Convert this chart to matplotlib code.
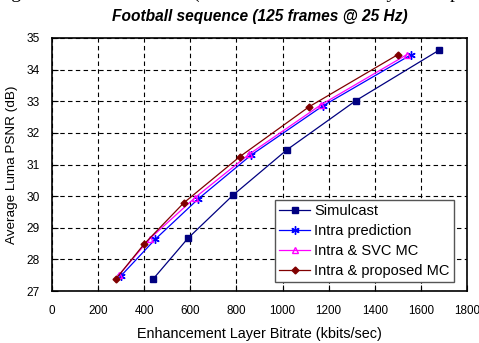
import matplotlib
matplotlib.use("Agg")
import matplotlib.pyplot as plt

# Data (kbits/sec, dB)
simulcast_x = [440, 590, 785, 1018, 1318, 1680]
simulcast_y = [27.39, 28.67, 30.03, 31.46, 33.02, 34.62]

intra_x = [298, 447, 634, 864, 1174, 1555]
intra_y = [27.47, 28.63, 29.91, 31.30, 32.85, 34.46]

svc_x = [292, 425, 620, 856, 1165, 1538]
svc_y = [27.52, 28.66, 29.95, 31.33, 32.88, 34.47]

prop_x = [276, 399, 572, 815, 1116, 1499]
prop_y = [27.37, 28.48, 29.79, 31.25, 32.83, 34.47]

xticks = [0, 200, 400, 600, 800, 1000, 1200, 1400, 1600, 1800]
yticks = [27, 28, 29, 30, 31, 32, 33, 34, 35]

plt.rcParams['font.family'] = ['Liberation Sans', 'DejaVu Sans']

W, H = 479, 343
fig = plt.figure(figsize=(W / 100, H / 100), dpi=100)
ax = fig.add_axes([52 / W, (H - 291) / H, 415 / W, 253 / H])

ax.plot(simulcast_x, simulcast_y, color='#000080', lw=0.9, marker='s', ms=4.5,
        mfc='#000080', mec='#000080', label='Simulcast')
ax.plot(intra_x, intra_y, color='#0000FF', lw=0.9, marker=(6, 2, 0), ms=6,
        mec='#0000FF', mew=1.0, label='Intra prediction')
ax.plot(svc_x, svc_y, color='#FF00FF', lw=0.9, marker='^', ms=5,
        mfc='none', mec='#FF00FF', mew=1.0, label='Intra & SVC MC')
ax.plot(prop_x, prop_y, color='#800000', lw=0.9, marker='D', ms=3.5,
        mfc='#800000', mec='#800000', label='Intra & proposed MC')

ax.set_xlim(0, 1800)
ax.set_ylim(27, 35)
ax.set_xticks(xticks)
ax.set_yticks(yticks)
ax.tick_params(axis='x', labelsize=8.4, direction='in', length=4, width=0.8, pad=10)
ax.tick_params(axis='y', labelsize=8.6, direction='in', length=4, width=0.8, pad=9)
ax.grid(True, color='black', linestyle=(0, (4, 3)), linewidth=0.8)
for s in ax.spines.values():
    s.set_color('black')
    s.set_linewidth(1.2)

ax.set_xlabel('Enhancement Layer Bitrate (kbits/sec)', fontsize=10.4, labelpad=7)
ax.set_ylabel('Average Luma PSNR (dB)', fontsize=9.7, labelpad=6)
ax.set_title('Football sequence (125 frames @ 25 Hz)', fontsize=11.2,
             fontweight='bold', fontstyle='italic', pad=12)

leg = ax.legend(loc='lower right', bbox_to_anchor=(402 / 415, 9 / 253),
                fontsize=10.5, frameon=True, fancybox=False, framealpha=1,
                edgecolor='#555555', handlelength=2.1, handletextpad=0.3,
                borderpad=0.3, labelspacing=0.4, borderaxespad=0)
leg.get_frame().set_linewidth(1.0)

fig.text(-0.01, 1.006, 'Figure 9: Rate-distortion (enhancement-to-base-layer comparison) for Football sequence',
         family='Liberation Serif', fontsize=14, ha='left', va='baseline')

fig.savefig('out.png', dpi=100)
